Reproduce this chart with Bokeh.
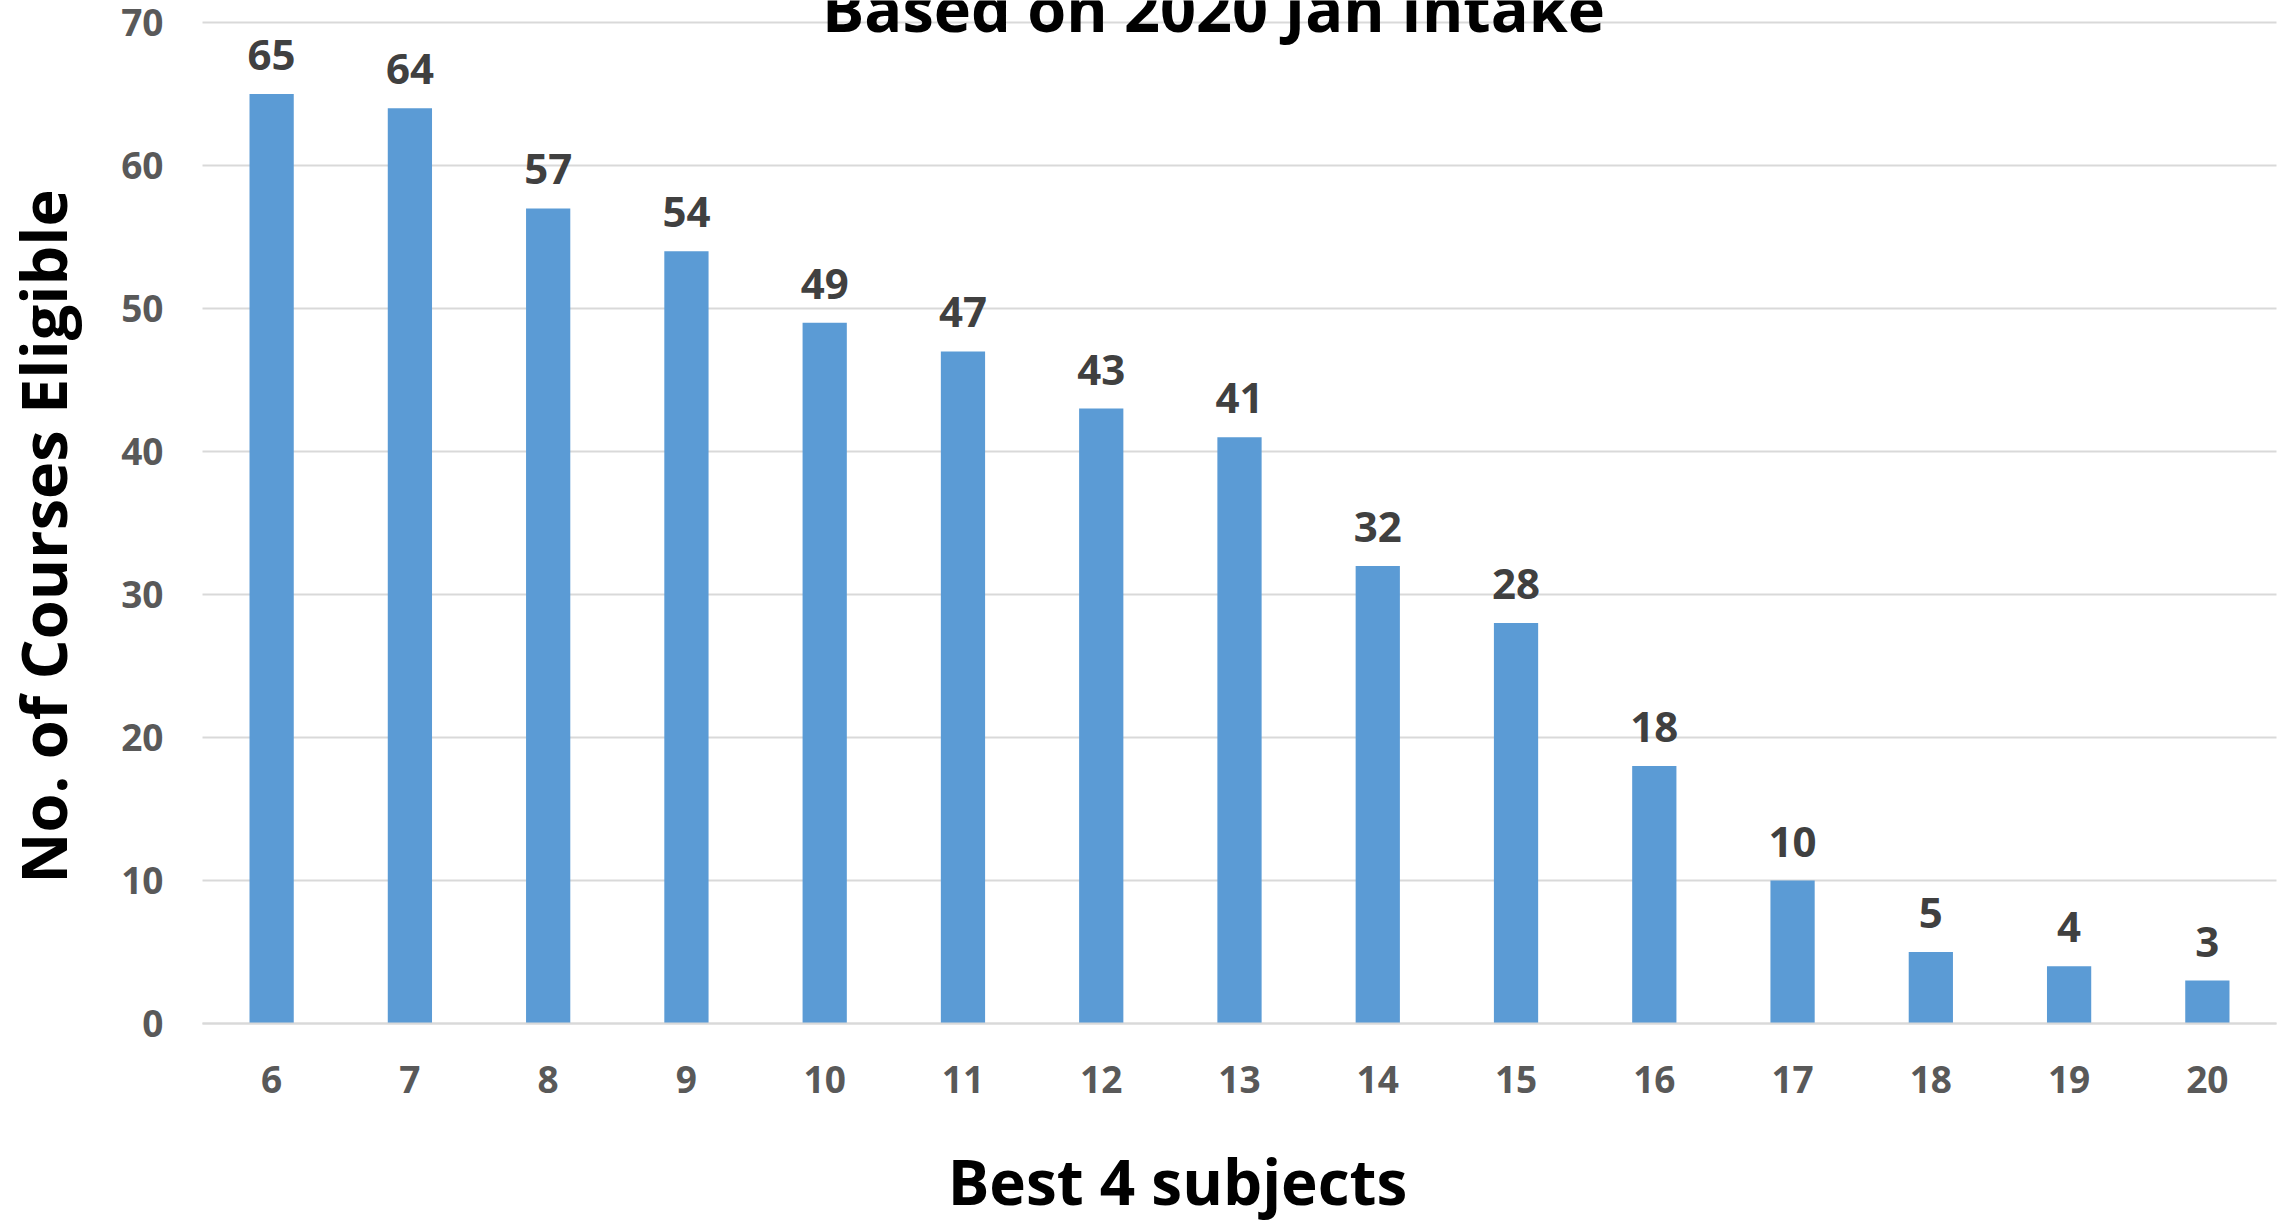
import math
from bokeh.plotting import figure
from bokeh.models import ColumnDataSource, Range1d, FixedTicker, LabelSet, Label
from bokeh.core.properties import value
from bokeh.embed import file_html
from bokeh.resources import INLINE

# ---- data ----
best4 = [6, 7, 8, 9, 10, 11, 12, 13, 14, 15, 16, 17, 18, 19, 20]
courses = [65, 64, 57, 54, 49, 47, 43, 41, 32, 28, 18, 10, 5, 4, 3]
y_ticks = [0, 10, 20, 30, 40, 50, 60, 70]
title_text = "Based on 2020 Jan Intake"
x_title = "Best 4 subjects"
y_title = "No. of Courses Eligible"

FONT = "Open Sans"
BAR = "#5B9BD5"
GRID = "#D9D9D9"

W, H = 2288, 1223
# plot area (where the category axis and value axis live), in pixels of the canvas
AREA_L, AREA_R, AREA_T, AREA_B = 202, 2276, 22, 1023

x_lo, x_hi = best4[0] - 0.5, best4[-1] + 0.5
y_lo, y_hi = y_ticks[0], y_ticks[-1]
px_x = (AREA_R - AREA_L) / (x_hi - x_lo)
px_y = (AREA_B - AREA_T) / (y_hi - y_lo)

src = ColumnDataSource(dict(x=best4, top=courses, lbl=[str(v) for v in courses]))

p = figure(
    width=W, height=H,
    x_range=Range1d(x_lo - AREA_L / px_x, x_hi + (W - AREA_R) / px_x),
    y_range=Range1d(y_lo - (H - AREA_B) / px_y, y_hi + AREA_T / px_y),
    output_backend="svg", toolbar_location=None,
    min_border_left=0, min_border_right=0, min_border_top=0, min_border_bottom=0,
)
p.styles = {"position": "absolute", "top": "0px", "left": "0px"}
p.outline_line_color = None
p.background_fill_color = "white"
p.border_fill_color = "white"

p.vbar(x="x", top="top", width=0.32, source=src, fill_color=BAR, line_color=None)

# value labels
p.add_layout(LabelSet(x="x", y="top", text="lbl", source=src, y_offset=24,
                      text_align="center", text_baseline="alphabetic",
                      text_font=value(FONT), text_font_style="bold",
                      text_font_size="42px", text_color="#404040"))

# axes, drawn at fixed locations inside the canvas
p.xaxis.ticker = FixedTicker(ticks=best4)
p.yaxis.ticker = FixedTicker(ticks=y_ticks)
p.xaxis.fixed_location = y_lo
p.yaxis.fixed_location = x_lo
p.xaxis.bounds = (x_lo, x_hi)
p.yaxis.bounds = (y_lo, y_hi)
for ax in (p.xaxis[0], p.yaxis[0]):
    ax.major_tick_line_color = None
    ax.minor_tick_line_color = None
    ax.major_label_text_font = FONT
    ax.major_label_text_font_style = "bold"
    ax.major_label_text_font_size = "37px"
    ax.major_label_text_color = "#595959"
p.xaxis.axis_line_color = GRID
p.xaxis.axis_line_width = 2
p.yaxis.axis_line_color = None
p.xaxis.major_label_standoff = 36
p.yaxis.major_label_standoff = 33

p.xgrid.grid_line_color = None
p.ygrid.grid_line_color = GRID
p.ygrid.grid_line_width = 2
p.ygrid.cross_bounds = (x_lo, x_hi)

# titles (screen units, origin at bottom-left of canvas, y up)
common = dict(x_units="screen", y_units="screen", text_align="center",
              text_baseline="middle", text_font=FONT, text_font_style="bold",
              text_color="black")
p.add_layout(Label(x=1213, y=H - 7, text=title_text, text_font_size="63px", **common))
p.add_layout(Label(x=1177, y=H - 1180, text=x_title, text_font_size="62px", **common))
p.add_layout(Label(x=42, y=H - 536, text=y_title, angle=math.pi / 2,
                   text_font_size="63px", **common))

open("out.html", "w").write(file_html(p, INLINE))
